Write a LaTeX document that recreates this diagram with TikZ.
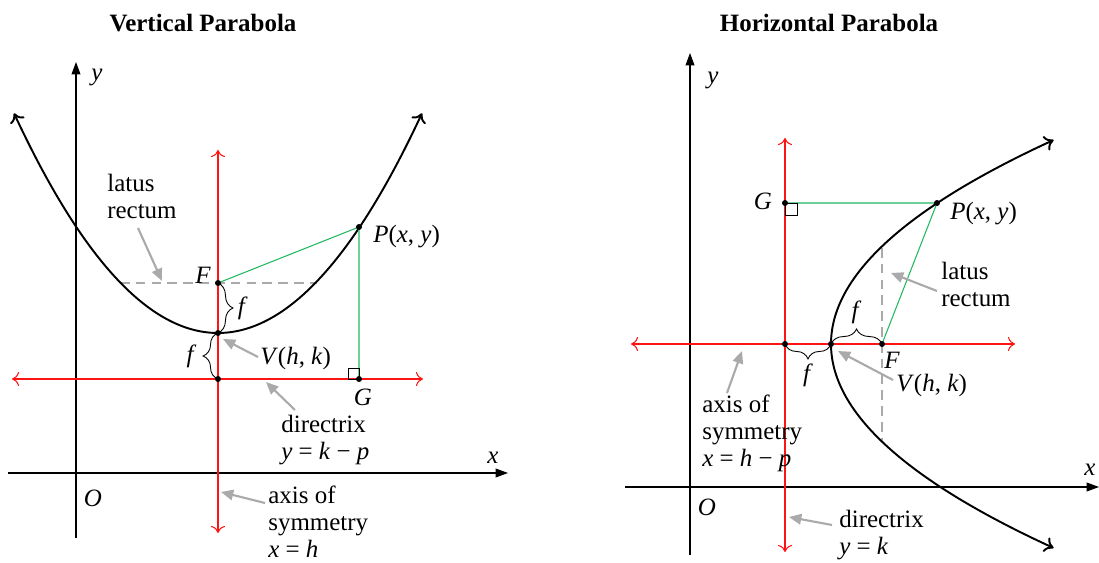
\documentclass[tikz,border=0pt]{standalone}
\usepackage{fontspec}
\setmainfont{Liberation Serif}
\usepackage{xcolor}
\definecolor{axisred}{RGB}{255, 20, 20}
\definecolor{chordgreen}{RGB}{30, 185, 95}
\definecolor{notegray}{RGB}{170, 170, 170}
\usepackage{tikz}
\usetikzlibrary{arrows.meta, decorations.pathreplacing}

\begin{document}
\begin{tikzpicture}[x=0.02cm, y=-0.02cm,
    txt/.style={font=\fontsize{14.2}{15.4}\selectfont, inner sep=0pt},
    ttl/.style={font=\fontsize{14.2}{15.4}\selectfont\bfseries, inner sep=0pt},
    note/.style={txt, align=left, anchor=base west},
    axisline/.style={line width=0.6pt, -{Triangle[length=7pt, width=5pt]}},
    redline/.style={axisred, line width=0.6pt, {Computer Modern Rightarrow[length=4pt, width=8pt]}-{Computer Modern Rightarrow[length=4pt, width=8pt]}},
    curve/.style={line width=1.1pt, {Computer Modern Rightarrow[length=5pt, width=9pt]}-{Computer Modern Rightarrow[length=5pt, width=9pt]}},
    chord/.style={chordgreen, line width=0.6pt},
    latus/.style={notegray, line width=0.7pt, dash pattern=on 5.5pt off 3.5pt},
    pointer/.style={notegray, line width=1.2pt, -{Triangle[length=7pt, width=6pt]}},
    half/.style={decorate, decoration={brace, amplitude=8.5pt}, line width=0.5pt}]
    \useasboundingbox (0,0) rectangle (1099,563);

    % vertical parabola
    \node[ttl, anchor=base] (vtitle) at (203,32) {Vertical Parabola};
    \draw[axisline] (8,473) -- (508,473);
    \draw[axisline] (76,538) -- (76,62);
    \node[txt] (vx) at (493,458) {\textit{x}};
    \node[txt] (vy) at (97,77) {\textit{y}};
    \node[txt] (vO) at (93,498) {\textit{O}};
    \draw[redline] (218,533) -- (218,150);
    \draw[redline] (12,379) -- (423,379);
    \coordinate (vF) at (218,283);
    \coordinate (vV) at (218,333);
    \coordinate (vD) at (218,379);
    \coordinate (vP) at (359,227);
    \coordinate (vG) at (359,379);
    \draw[latus] (120,283) -- (317,283);
    \draw[curve] plot[domain=-204:204, samples=80, smooth] ({218+\x}, {333-(0.07266*\x)*(0.07266*\x)});
    \draw[chord] (vF) -- (vP) -- (vG);
    \draw[line width=0.5pt] (vG) rectangle ++(-11,-11);
    \draw[half] (vF) -- (vV) node[txt, midway, right=11pt] {\textit{f}};
    \draw[half] (vD) -- (vV) node[txt, midway, left=12pt] {\textit{f}};
    \foreach \p in {vF,vV,vD,vP,vG} \fill (\p) circle (1.7pt);
    \node[txt] (vFl) at (203,275) {\textit{F}};
    \node[txt, anchor=base] (vGl) at (363,406) {\textit{G}};
    \node[txt, anchor=base west] (vPl) at (373,243) {\textit{P}(\textit{x}, \textit{y})};
    \node[txt, anchor=base west] (vVl) at (260,365) {\textit{V}(\textit{h}, \textit{k})};
    \node[note] (vlat) at (107,219) {latus\\rectum};
    \node[note] (vdir) at (281,460) {directrix\\\textit{y} = \textit{k} − \textit{p}};
    \node[note] (vsym) at (268,558) {axis of\\symmetry\\\textit{x} = \textit{h}};
    \draw[pointer] (138,228) -- (162,281);
    \draw[pointer] (258,357) -- (223,339);
    \draw[pointer] (295,410) -- (266,382);
    \draw[pointer] (265,503) -- (221,492);

    % horizontal parabola
    \node[ttl, anchor=base] (htitle) at (829,32) {Horizontal Parabola};
    \draw[axisline] (625,487) -- (1099,487);
    \draw[axisline] (690,555) -- (690,53);
    \node[txt] (hx) at (1090,470) {\textit{x}};
    \node[txt] (hy) at (713,80) {\textit{y}};
    \node[txt] (hO) at (707,507) {\textit{O}};
    \draw[redline] (631,344) -- (1015,344);
    \draw[redline] (785,552) -- (785,138);
    \coordinate (hD) at (785,344);
    \coordinate (hV) at (831,344);
    \coordinate (hF) at (882,344);
    \coordinate (hP) at (937,203);
    \coordinate (hG) at (785,203);
    \draw[latus] (882,248) -- (882,443);
    \draw[curve] plot[domain=-204:204, samples=80, smooth] ({831+(0.07314*\x)*(0.07314*\x)}, {344+\x});
    \draw[chord] (hG) -- (hP) -- (hF);
    \draw[line width=0.5pt] (hG) rectangle ++(12,12);
    \draw[half] (hV) -- (hF) node[txt, midway, above=11pt] {\textit{f}};
    \draw[half] (hV) -- (hD) node[txt, midway, below=11pt] {\textit{f}};
    \foreach \p in {hD,hV,hF,hP,hG} \fill (\p) circle (1.7pt);
    \node[txt] (hGl) at (763,201) {\textit{G}};
    \node[txt] (hFl) at (892,360) {\textit{F}};
    \node[txt, anchor=base west] (hPl) at (950,220) {\textit{P}(\textit{x}, \textit{y})};
    \node[txt, anchor=base west] (hVl) at (896,392) {\textit{V}(\textit{h}, \textit{k})};
    \node[note] (hlat) at (941,307) {latus\\rectum};
    \node[note] (hsym) at (702,467) {axis of\\symmetry\\\textit{x} = \textit{h} − \textit{p}};
    \node[note] (hdir) at (839,555) {directrix\\\textit{y} = \textit{k}};
    \draw[pointer] (937,291) -- (891,273);
    \draw[pointer] (893,380) -- (838,351);
    \draw[pointer] (727,393) -- (742,351);
    \draw[pointer] (832,525) -- (789,517);
\end{tikzpicture}
\end{document}
